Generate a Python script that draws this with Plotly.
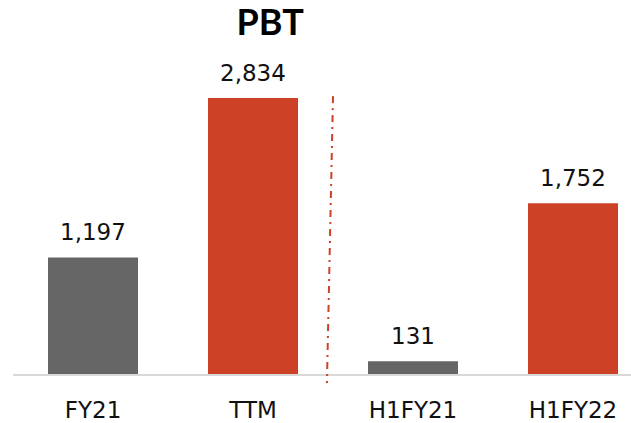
import plotly.graph_objects as go

categories = ["FY21", "TTM", "H1FY21", "H1FY22"]
pbt_values = [1197, 2834, 131, 1752]
bar_colors = ["#666666", "#cd4126", "#666666", "#cd4126"]

LABEL_FONT = "DejaVu Sans"
TITLE_FONT = "Lato"

fig = go.Figure(
    go.Bar(
        x=list(range(len(categories))),
        y=pbt_values,
        marker=dict(color=bar_colors, line=dict(width=0)),
        width=0.5625,
        hoverinfo="skip",
    )
)

# Value labels above each bar
for i, v in enumerate(pbt_values):
    fig.add_annotation(
        x=i, y=v, text=f"{v:,}", showarrow=False,
        yanchor="bottom", yshift=10,
        font=dict(family=LABEL_FONT, size=23, color="#111111"),
    )

# Dash-dot divider between the annual and half-year groups
fig.add_shape(
    type="line", xref="paper", yref="paper",
    x0=0.5178, y0=0.885, x1=0.508, y1=-0.0287,
    line=dict(color="#cd4126", width=2, dash="7px,5px,2px,5px"),
)

fig.update_layout(
    width=631, height=423,
    margin=dict(l=13, r=0, t=60, b=49, autoexpand=False),
    paper_bgcolor="white", plot_bgcolor="white",
    showlegend=False,
    title=dict(
        text="<b>PBT</b>", x=0.416, xref="paper", xanchor="center",
        y=1 - 22 / 423, yref="container", yanchor="middle",
        font=dict(family=TITLE_FONT, size=36, color="#000000"),
    ),
    xaxis=dict(
        range=[-0.5, 3.3625],
        tickmode="array", tickvals=list(range(len(categories))), ticktext=categories,
        showline=True, linecolor="#d9d9d9", linewidth=2,
        ticks="outside", ticklen=14, tickcolor="rgba(0,0,0,0)",
        showgrid=False, zeroline=False, automargin=False,
        tickfont=dict(family=LABEL_FONT, size=23, color="#111111"),
        fixedrange=True,
    ),
    yaxis=dict(
        range=[0, 3224], visible=False, showgrid=False, zeroline=False,
        fixedrange=True, automargin=False,
    ),
)

fig.write_html("out.html")
